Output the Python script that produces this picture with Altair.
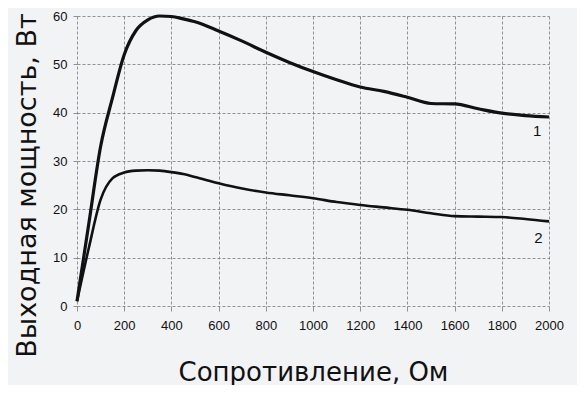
import altair as alt
import pandas as pd

resistance = [0, 50, 100, 150, 200, 250, 300, 350, 400, 450, 500, 600, 700, 800, 900,
              1000, 1100, 1200, 1300, 1400, 1500, 1600, 1700, 1800, 1900, 2000]
power1 = [1, 17, 33, 43, 52, 57, 59.2, 60, 59.9, 59.4, 58.8, 56.9, 54.8, 52.5, 50.4,
          48.5, 46.8, 45.3, 44.4, 43.2, 41.9, 41.8, 40.8, 39.9, 39.4, 39.1]
power2 = [1, 12, 22, 26.4, 27.6, 28, 28.1, 28, 27.7, 27.3, 26.7, 25.4, 24.3, 23.5, 22.9,
          22.3, 21.5, 20.9, 20.4, 19.9, 19.2, 18.6, 18.5, 18.4, 18.0, 17.5]
curve_names = ["1", "2"]
label_x = [1950, 1955]
label_y = [36.2, 14.1]

rows = []
for name, vals in zip(curve_names, [power1, power2]):
    for r, p in zip(resistance, vals):
        rows.append({"r": r, "p": p, "curve": name})
df = pd.DataFrame(rows)
labels = pd.DataFrame({"x": label_x, "y": label_y, "t": curve_names})

xscale = alt.Scale(domain=[0, 2000], nice=False)
yscale = alt.Scale(domain=[0, 60], nice=False)

xaxis = alt.Axis(values=list(range(0, 2001, 200)), title="Сопротивление, Ом", format="d",
                 labelOverlap=False, labelFlush=False,
                 grid=True, gridDash=[3, 2], gridColor="#777", gridWidth=0.8,
                 domain=False, ticks=True, tickSize=5, tickColor="#777", tickWidth=0.8,
                 labelFont="Liberation Sans", labelFontSize=13, labelColor="#111",
                 labelPadding=8, titleFont="DejaVu Sans", titleFontSize=26,
                 titleFontWeight="normal", titleColor="#111", titlePadding=27)
yaxis = alt.Axis(values=list(range(0, 61, 10)), title="Выходная мощность, Вт",
                 labelOverlap=False, labelFlush=False,
                 grid=True, gridDash=[3, 2], gridColor="#777", gridWidth=0.8,
                 domain=False, ticks=True, tickSize=4, tickColor="#777", tickWidth=0.8,
                 labelFont="Liberation Sans", labelFontSize=13, labelColor="#111",
                 labelPadding=6, titleFont="DejaVu Sans", titleFontSize=27,
                 titleFontWeight="normal", titleColor="#111",
                 titleX=-50, titleY=169, titleAngle=270, titleAlign="center",
                 titleBaseline="middle")

lines = alt.Chart(df).mark_line(interpolate="monotone", color="#111").encode(
    x=alt.X("r:Q", scale=xscale, axis=xaxis),
    y=alt.Y("p:Q", scale=yscale, axis=yaxis),
    detail="curve:N",
    strokeWidth=alt.StrokeWidth("curve:N", scale=alt.Scale(domain=curve_names, range=[3.2, 2.6]), legend=None),
)

text = alt.Chart(labels).mark_text(font="Liberation Sans", fontSize=15, color="#111").encode(
    x=alt.X("x:Q", scale=xscale), y=alt.Y("y:Q", scale=yscale), text="t:N")

chart = (lines + text).properties(
    width=472, height=290,
    autosize=alt.AutoSizeParams(type="none"),
    padding={"left": 69, "top": 8, "right": 28, "bottom": 79},
    background="#f2f3f5",
).configure_view(stroke=None)

chart.save("out.html", embed_options={"renderer": "svg", "actions": False})
